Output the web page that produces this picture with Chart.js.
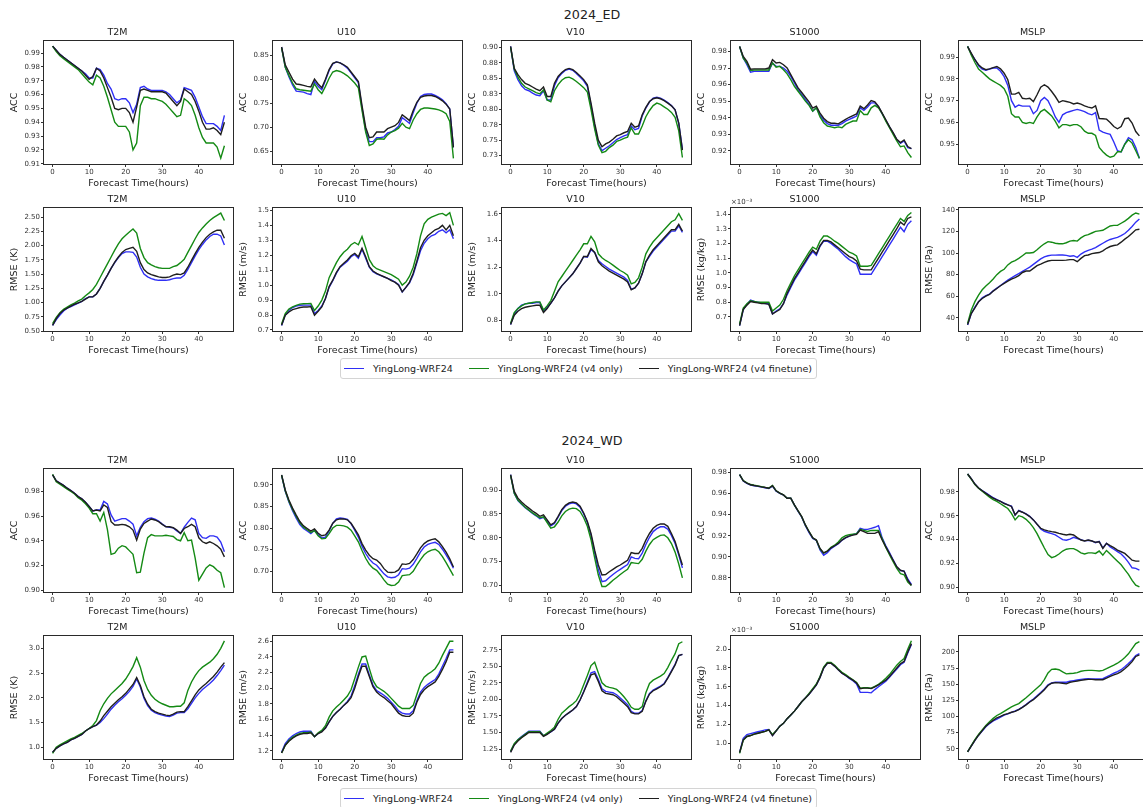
<!DOCTYPE html>
<html>
<head>
<meta charset="utf-8">
<title>YingLong-WRF24 ACC / RMSE</title>
<script src="https://cdn.jsdelivr.net/npm/chart.js@4.4.1/dist/chart.umd.min.js"></script>
<style>
  html, body { margin: 0; padding: 0; background: #fff; }
  body { width: 1143px; height: 807px; position: relative; overflow: hidden; font-family: 'DejaVu Sans', sans-serif; color: #222; }
  canvas.panel { position: absolute; }
  .suptitle { position: absolute; font-size: 12.7px; transform: translate(-50%, -50%); white-space: nowrap; }
  .legend { position: absolute; display: flex; align-items: center; box-sizing: border-box; height: 21px; padding: 0 4px 0 3px;
            border: 1px solid #d4d4d4; border-radius: 3px; background: #fff; font-size: 9.5px; white-space: nowrap; }
  .legend .item { display: flex; align-items: center; margin-right: 16px; }
  .legend .item:last-child { margin-right: 0; }
  .legend .swatch { width: 20px; height: 1.5px; margin-right: 9px; }
</style>
</head>
<body>
<div class="suptitle" style="left:592px; top:14px;">2024_ED</div>
<div class="suptitle" style="left:592px; top:440px;">2024_WD</div>

<script>
// ---- series names / colours ----
const SERIES_NAMES = ['YingLong-WRF24', 'YingLong-WRF24 (v4 only)', 'YingLong-WRF24 (v4 finetune)'];
const SERIES_COLORS = ['#2f2ff5', '#148a14', '#1e1e1e'];

// forecast hours
const HOURS = [0,1,2,3,4,5,6,7,8,9,10,11,12,13,14,15,16,17,18,19,20,21,22,23,24,25,26,27,28,29,30,31,32,33,34,35,36,37,38,39,40,41,42,43,44,45,46,47];
const X_TICKS = [0, 10, 20, 30, 40];

// ================= 2024_ED : ACC =================
const ED_ACC_T2M_BASE = [.995,.992,.989,.987,.985,.983,.981,.979,.977,.975, .972,.972,.979,.978,.974,.968,.964,.957,.956,.957, .957,.954,.947,.953,.965,.966,.964,.963,.963,.963, .963,.962,.960,.957,.954,.956,.965,.964,.963,.958, .951,.944,.939,.939,.939,.937,.934,.945];
const ED_ACC_T2M_V4   = [.995,.991,.988,.986,.984,.982,.980,.978,.975,.972, .969,.967,.974,.972,.966,.958,.949,.940,.937,.937, .937,.933,.920,.925,.952,.958,.958,.957,.957,.956, .955,.953,.950,.947,.944,.945,.957,.955,.952,.945, .936,.929,.925,.925,.925,.922,.914,.923];
const ED_ACC_T2M_FT   = [.995,.992,.989,.987,.985,.983,.981,.979,.977,.974, .971,.973,.979,.977,.972,.965,.958,.950,.949,.950, .950,.947,.940,.951,.963,.964,.963,.962,.962,.962, .962,.961,.958,.955,.952,.955,.964,.962,.960,.955, .948,.940,.935,.935,.936,.934,.931,.940];

const ED_ACC_U10_BASE = [.867,.825,.805,.788,.775,.774,.773,.770,.768,.795, .785,.778,.798,.818,.832,.836,.834,.829,.823,.813, .803,.793,.740,.693,.670,.670,.678,.678,.680,.688, .690,.695,.702,.720,.714,.708,.730,.750,.764,.768, .769,.769,.766,.762,.757,.749,.738,.658];
const ED_ACC_U10_V4   = [.865,.825,.808,.792,.780,.778,.777,.776,.775,.790, .778,.770,.785,.802,.815,.818,.816,.812,.807,.800, .792,.782,.735,.690,.662,.665,.675,.676,.675,.684, .690,.693,.698,.708,.700,.697,.715,.728,.737,.740, .740,.739,.738,.736,.733,.728,.712,.635];
const ED_ACC_U10_FT   = [.867,.830,.815,.800,.790,.789,.787,.785,.784,.800, .790,.782,.800,.820,.833,.836,.834,.830,.825,.815, .805,.795,.745,.700,.678,.680,.690,.690,.690,.697, .700,.703,.710,.726,.720,.714,.735,.752,.762,.765, .766,.766,.764,.760,.755,.748,.738,.658];

const ED_ACC_V10_BASE = [.9016,.862,.848,.838,.832,.830,.826,.823,.822,.830, .815,.815,.838,.851,.858,.863,.865,.863,.858,.852, .846,.837,.806,.772,.744,.733,.737,.741,.746,.751, .754,.757,.759,.773,.767,.769,.789,.802,.812,.818, .8195,.818,.815,.811,.806,.799,.777,.735];
const ED_ACC_V10_V4   = [.900,.865,.852,.842,.836,.833,.830,.827,.825,.831, .815,.812,.830,.840,.847,.851,.852,.849,.845,.840, .835,.828,.800,.768,.742,.730,.732,.738,.742,.748, .750,.753,.755,.770,.760,.760,.773,.788,.798,.806, .810,.808,.804,.800,.795,.787,.765,.722];
const ED_ACC_V10_FT   = [.9016,.866,.856,.848,.842,.8395,.836,.8325,.830,.836, .8206,.8206,.842,.853,.8595,.864,.866,.864,.8595,.854, .848,.8395,.810,.7775,.750,.7395,.744,.747,.7515,.757, .759,.762,.764,.7775,.771,.773,.791,.803,.8125,.817, .8185,.817,.814,.810,.8055,.799,.7775,.734];

const ED_ACC_S1000_BASE = [.983,.976,.972,.9675,.968,.968,.968,.968,.968,.973, .971,.971,.970,.968,.965,.961,.957,.954,.951,.948, .944,.946,.9415,.9385,.9365,.9355,.9355,.9355,.9365,.938, .939,.940,.941,.946,.9445,.9465,.949,.949,.9465,.9425, .9385,.9345,.9308,.9268,.9245,.926,.922,.9214];
const ED_ACC_S1000_V4   = [.983,.976,.973,.9685,.9688,.9688,.9688,.9688,.9688,.973, .9705,.971,.969,.9665,.963,.959,.956,.953,.950,.9475, .944,.946,.9405,.937,.935,.9345,.934,.9345,.934,.936, .937,.938,.938,.9443,.942,.942,.946,.9475,.946,.9425, .938,.934,.930,.926,.9225,.923,.919,.916];
const ED_ACC_S1000_FT   = [.983,.977,.974,.9693,.9695,.9695,.9695,.9695,.970,.975, .973,.9734,.972,.970,.966,.962,.958,.9552,.9524,.9496, .9458,.947,.9428,.9397,.9377,.9367,.9367,.9363,.9377,.939, .9403,.9413,.9423,.947,.9455,.9477,.9504,.9496,.9468,.9428, .9388,.9347,.931,.927,.925,.9266,.9226,.9214];

const ED_ACC_MSLP_BASE = [.995,.9915,.989,.986,.9845,.984,.9845,.985,.985,.9835, .981,.977,.970,.967,.968,.9675,.9675,.9675,.964,.9655, .970,.9715,.970,.9665,.9625,.960,.9635,.9645,.965,.9655, .966,.9655,.965,.964,.9635,.9645,.9565,.9555,.955,.9545, .951,.947,.9465,.950,.953,.952,.9485,.9435];
const ED_ACC_MSLP_V4   = [.995,.991,.9875,.9845,.983,.9815,.980,.979,.978,.977, .9755,.972,.964,.9625,.9625,.960,.9595,.960,.9595,.9625, .965,.966,.9645,.963,.9605,.9575,.959,.959,.9585,.959, .959,.958,.956,.955,.955,.954,.9485,.9465,.945,.944, .9445,.9465,.9465,.950,.952,.9505,.947,.9435];
const ED_ACC_MSLP_FT   = [.9948,.9918,.9888,.9865,.985,.9842,.9846,.9852,.9857,.9846, .9826,.9796,.973,.973,.9738,.9711,.9708,.9711,.9696,.9727, .9762,.9773,.9762,.9742,.9719,.9692,.970,.9696,.9692,.9685, .9689,.9684,.9676,.967,.9666,.9676,.9618,.9617,.9615,.960, .9581,.9571,.9581,.9617,.962,.9597,.9558,.9538];

// ================= 2024_ED : RMSE =================
const ED_RMSE_T2M_BASE = [.60,.70,.78,.85,.90,.93,.96,.99,1.02,1.07, 1.10,1.10,1.15,1.25,1.37,1.48,1.60,1.70,1.79,1.86, 1.89,1.89,1.88,1.80,1.62,1.50,1.45,1.42,1.40,1.39, 1.39,1.39,1.40,1.42,1.43,1.43,1.48,1.58,1.70,1.82, 1.93,2.02,2.10,2.16,2.20,2.20,2.17,2.01];
const ED_RMSE_T2M_V4   = [.63,.74,.82,.88,.92,.96,.99,1.03,1.06,1.12, 1.17,1.23,1.32,1.44,1.56,1.68,1.80,1.92,2.03,2.12, 2.18,2.24,2.29,2.22,1.95,1.79,1.70,1.66,1.63,1.61, 1.60,1.60,1.60,1.63,1.65,1.70,1.76,1.88,2.00,2.12, 2.23,2.31,2.38,2.44,2.49,2.53,2.57,2.44];
const ED_RMSE_T2M_FT   = [.60,.718,.806,.865,.90,.935,.97,.995,1.02,1.06, 1.10,1.10,1.15,1.25,1.37,1.48,1.60,1.71,1.80,1.88, 1.93,1.95,1.97,1.90,1.70,1.58,1.52,1.49,1.47,1.45, 1.44,1.44,1.45,1.48,1.50,1.49,1.52,1.62,1.74,1.86, 1.97,2.06,2.14,2.20,2.24,2.27,2.27,2.13];

const ED_RMSE_U10_BASE = [.73,.80,.83,.85,.86,.865,.866,.866,.866,.81, .83,.86,.91,.985,1.03,1.08,1.12,1.14,1.16,1.19, 1.205,1.18,1.24,1.18,1.12,1.09,1.075,1.065,1.055,1.045, 1.035,1.02,1.005,.955,.985,1.015,1.07,1.15,1.23,1.28, 1.31,1.33,1.34,1.36,1.37,1.35,1.37,1.31];
const ED_RMSE_U10_V4   = [.74,.81,.84,.855,.865,.873,.875,.876,.877,.83, .86,.90,.96,1.05,1.10,1.15,1.19,1.22,1.24,1.27, 1.285,1.27,1.325,1.25,1.17,1.13,1.11,1.10,1.09,1.08, 1.07,1.055,1.04,1.00,1.02,1.06,1.12,1.21,1.33,1.41, 1.44,1.455,1.465,1.475,1.48,1.465,1.485,1.40];
const ED_RMSE_U10_FT   = [.731,.798,.82,.836,.843,.85,.854,.854,.856,.798, .825,.854,.91,.99,1.033,1.085,1.123,1.146,1.168,1.197, 1.213,1.19,1.247,1.19,1.123,1.094,1.078,1.067,1.056,1.045, 1.03,1.02,1.00,.955,.985,1.02,1.08,1.16,1.25,1.30, 1.33,1.35,1.37,1.38,1.40,1.37,1.40,1.33];

const ED_RMSE_V10_BASE = [.77,.85,.89,.915,.925,.93,.93,.935,.935,.87, .90,.93,.97,1.02,1.06,1.09,1.12,1.15,1.19,1.23, 1.28,1.275,1.33,1.31,1.25,1.225,1.205,1.185,1.17,1.155, 1.14,1.125,1.10,1.035,1.045,1.08,1.15,1.24,1.28,1.32, 1.35,1.38,1.41,1.44,1.47,1.47,1.51,1.46];
const ED_RMSE_V10_V4   = [.78,.86,.89,.91,.925,.93,.935,.94,.94,.88, .91,.95,1.02,1.09,1.13,1.17,1.21,1.25,1.29,1.33, 1.375,1.375,1.43,1.39,1.30,1.27,1.25,1.235,1.215,1.195, 1.175,1.16,1.14,1.075,1.085,1.12,1.20,1.30,1.35,1.39, 1.42,1.45,1.48,1.51,1.54,1.555,1.60,1.55];
const ED_RMSE_V10_FT   = [.77,.84,.87,.89,.90,.905,.91,.915,.915,.86, .89,.93,.97,1.02,1.06,1.09,1.12,1.15,1.19,1.23, 1.28,1.28,1.34,1.31,1.24,1.21,1.19,1.17,1.155,1.14, 1.125,1.11,1.09,1.03,1.045,1.08,1.15,1.24,1.29,1.33, 1.36,1.39,1.42,1.45,1.48,1.48,1.52,1.47];

// S1000 RMSE in units of 1e-3 kg/kg
const ED_RMSE_S1000_BASE = [.64,.75,.785,.815,.805,.80,.795,.79,.79,.72, .74,.755,.79,.85,.90,.95,.99,1.03,1.07,1.11, 1.145,1.12,1.18,1.215,1.215,1.20,1.18,1.16,1.135,1.11, 1.09,1.075,1.06,.99,.99,.99,.99,1.03,1.07,1.11, 1.15,1.19,1.23,1.27,1.31,1.28,1.33,1.355];
const ED_RMSE_S1000_V4   = [.65,.76,.79,.81,.805,.80,.80,.80,.80,.74, .76,.78,.82,.88,.93,.98,1.02,1.06,1.10,1.14, 1.175,1.16,1.215,1.25,1.25,1.235,1.215,1.20,1.18,1.16, 1.14,1.13,1.115,1.045,1.045,1.045,1.05,1.09,1.13,1.17, 1.21,1.25,1.29,1.33,1.37,1.35,1.39,1.41];
const ED_RMSE_S1000_FT   = [.64,.75,.78,.805,.80,.795,.79,.79,.785,.72, .735,.75,.79,.86,.91,.96,1.00,1.04,1.08,1.12, 1.155,1.13,1.185,1.22,1.22,1.21,1.19,1.17,1.15,1.13, 1.11,1.10,1.08,1.025,1.02,1.02,1.02,1.06,1.10,1.14, 1.18,1.22,1.26,1.30,1.345,1.325,1.37,1.38];

const ED_RMSE_MSLP_BASE = [33.5,44,50,55,58.5,60.5,62,65,67.5,70, 72.5,75,77,79,81,83,85,87,89.5,92, 94.5,96.5,97.5,98,98,98.2,98.2,97.8,97,97.5, 96,99,101,102.5,103.5,105,107,109,111,112.5, 113.5,114.5,116,118,121,124.5,128.5,131.5];
const ED_RMSE_MSLP_V4   = [35,47,55,61,66,69.5,72.5,76,80,83, 85,89,91.5,93,95,97.5,100,100,100.5,103, 106,108.5,110.5,110,109,108.5,108.5,109.5,111,111.5, 111,114,116,117,118.5,120,120.5,121,123,125, 125.5,125.5,127.5,129.5,132,135,137,136];
const ED_RMSE_MSLP_FT   = [33.8,44,49.3,54.9,58,60.1,61.7,64.8,67.2,69.7, 71.9,74,75.9,77.2,79,82,83.3,83.3,85.8,88.3, 89.8,91.4,92.6,93.2,93.2,93.2,93.2,93.4,93.9,93.9, 92,95,97.6,98.2,99.4,100,100.4,102,104.4,106, 106.9,107.5,110,112.8,115.2,118.3,121.4,122];

// ================= 2024_WD : ACC =================
const WD_ACC_T2M_BASE = [.9936,.9887,.9868,.985,.9827,.9808,.9786,.9759,.974,.9713, .9678,.9642,.965,.965,.972,.970,.961,.956,.957,.958, .958,.956,.9535,.944,.951,.9555,.958,.9585,.9575,.956, .9535,.9515,.951,.9505,.948,.946,.951,.955,.9585,.957, .946,.9425,.942,.944,.944,.943,.939,.931];
const WD_ACC_T2M_V4   = [.994,.988,.986,.984,.982,.980,.978,.975,.973,.970, .9665,.962,.962,.956,.963,.949,.929,.930,.934,.936, .935,.932,.929,.914,.9145,.930,.9425,.945,.944,.944, .944,.9445,.944,.9435,.941,.940,.9465,.940,.9405,.926, .908,.913,.918,.9205,.919,.916,.914,.902];
const WD_ACC_T2M_FT   = [.9936,.9887,.9868,.985,.9827,.9808,.9786,.9759,.974,.9713, .9678,.9642,.965,.9642,.9691,.967,.9555,.9528,.9528,.9533, .9528,.9514,.9487,.9405,.9495,.9541,.956,.9577,.9569,.9555, .9533,.9514,.9514,.9506,.9487,.946,.950,.9514,.9533,.9514, .9424,.9392,.9378,.9392,.9378,.9359,.9332,.9269];

const WD_ACC_U10_BASE = [.922,.885,.860,.840,.823,.808,.799,.793,.787,.795, .785,.777,.779,.793,.811,.821,.823,.822,.820,.810, .795,.779,.758,.741,.728,.719,.714,.704,.694,.687, .685,.686,.692,.706,.705,.707,.716,.730,.745,.756, .762,.765,.767,.762,.751,.738,.724,.707];
const WD_ACC_U10_V4   = [.922,.886,.862,.843,.827,.812,.802,.796,.790,.794, .782,.775,.776,.787,.800,.806,.806,.805,.802,.795, .782,.768,.748,.730,.716,.707,.702,.692,.680,.670, .667,.668,.675,.690,.691,.692,.700,.714,.727,.738, .745,.749,.751,.745,.734,.720,.705,.690];
const WD_ACC_U10_FT   = [.923,.888,.865,.846,.830,.815,.805,.799,.793,.798, .788,.782,.784,.795,.811,.819,.821,.821,.819,.811, .798,.784,.764,.749,.737,.729,.726,.718,.706,.698, .697,.698,.703,.717,.716,.718,.727,.740,.754,.764, .770,.773,.775,.768,.757,.744,.729,.710];

const WD_ACC_V10_BASE = [.932,.893,.878,.870,.863,.857,.851,.846,.840,.843, .834,.825,.830,.843,.857,.866,.871,.873,.871,.864, .850,.832,.805,.768,.733,.708,.710,.717,.723,.729, .734,.739,.744,.760,.757,.756,.768,.786,.801,.813, .819,.823,.823,.818,.805,.788,.764,.737];
const WD_ACC_V10_V4   = [.930,.893,.879,.871,.864,.858,.852,.847,.842,.844, .832,.820,.823,.833,.846,.855,.860,.862,.861,.855, .842,.824,.796,.758,.722,.698,.698,.704,.711,.717, .723,.729,.734,.748,.747,.746,.755,.772,.786,.796, .801,.805,.806,.800,.788,.770,.745,.716];
const WD_ACC_V10_FT   = [.932,.897,.883,.875,.868,.862,.856,.851,.845,.848, .8375,.827,.832,.845,.859,.868,.873,.875,.873,.866, .852,.834,.809,.774,.743,.722,.723,.729,.734,.739, .743,.748,.753,.769,.767,.767,.778,.795,.809,.820, .826,.829,.829,.824,.809,.792,.767,.743];

const WD_ACC_S1000_BASE = [.9778,.9718,.9695,.968,.9673,.9667,.966,.9654,.9647,.967, .9622,.960,.9585,.9555,.9555,.949,.943,.9375,.9295,.923, .9175,.9155,.9065,.9015,.904,.9078,.910,.9125,.9158,.918, .9197,.921,.922,.927,.926,.926,.927,.928,.9295,.918, .9105,.904,.8972,.8905,.887,.8865,.879,.874];
const WD_ACC_S1000_V4   = [.9778,.9722,.970,.9685,.9678,.9672,.9665,.9658,.9652,.9675, .9625,.9603,.9587,.9555,.9556,.949,.9435,.938,.930,.924, .918,.9158,.9075,.9035,.9055,.909,.911,.914,.918,.920, .921,.9215,.922,.926,.925,.924,.925,.925,.925,.917, .909,.902,.8955,.889,.884,.883,.876,.873];
const WD_ACC_S1000_FT   = [.9778,.972,.9698,.9683,.9676,.967,.9663,.9657,.965,.9673, .9625,.9603,.9587,.9555,.9556,.9492,.9435,.9381,.9302,.9238, .9181,.9159,.9079,.9038,.9054,.9086,.9105,.9127,.9159,.9181, .9197,.9206,.9213,.9254,.9238,.9222,.9222,.9222,.9238,.9159, .9095,.9032,.8968,.8905,.8873,.8863,.8778,.873];

const WD_ACC_MSLP_BASE = [.9948,.9909,.9864,.9831,.981,.979,.977,.975,.9735,.972, .9705,.969,.968,.9605,.9645,.963,.9615,.9595,.9565,.953, .949,.947,.946,.945,.944,.942,.940,.9395,.9405,.942, .941,.940,.939,.9395,.939,.9375,.9385,.933,.937,.934, .932,.930,.928,.925,.921,.9165,.916,.9145];
const WD_ACC_MSLP_V4   = [.9948,.9905,.986,.983,.9805,.978,.9755,.9735,.972,.970, .968,.966,.962,.9565,.960,.959,.957,.954,.950,.945, .939,.933,.9275,.925,.926,.928,.9305,.932,.9325,.9325, .931,.929,.928,.929,.929,.9285,.9305,.927,.931,.928, .925,.922,.919,.915,.911,.906,.902,.9005];
const WD_ACC_MSLP_FT   = [.9948,.9909,.9864,.9831,.9808,.9786,.9766,.9747,.9733,.9719, .9702,.9691,.9677,.9607,.9641,.9629,.9613,.9593,.9565,.9529, .9495,.9481,.9473,.9467,.9462,.9453,.9445,.9439,.9445,.9439, .9417,.9397,.9389,.9397,.9389,.9378,.9383,.9327,.9369,.935, .9333,.9313,.9299,.9285,.9257,.9229,.9221,.9221];

// ================= 2024_WD : RMSE =================
const WD_RMSE_T2M_BASE = [.90,.98,1.03,1.07,1.10,1.15,1.18,1.22,1.26,1.33, 1.38,1.42,1.45,1.50,1.58,1.67,1.77,1.85,1.92,1.98, 2.05,2.13,2.23,2.38,2.22,1.99,1.84,1.75,1.70,1.67, 1.65,1.63,1.62,1.65,1.69,1.70,1.70,1.78,1.89,2.00, 2.09,2.17,2.23,2.29,2.36,2.45,2.55,2.66];
const WD_RMSE_T2M_V4   = [.88,1.00,1.05,1.09,1.13,1.17,1.20,1.24,1.28,1.33, 1.38,1.44,1.54,1.74,1.88,1.99,2.08,2.15,2.22,2.29, 2.38,2.50,2.63,2.81,2.62,2.35,2.17,2.05,1.97,1.92, 1.88,1.85,1.82,1.82,1.83,1.83,1.90,2.15,2.32,2.45, 2.55,2.62,2.67,2.72,2.79,2.88,3.00,3.15];
const WD_RMSE_T2M_FT   = [.90,.98,1.03,1.07,1.10,1.15,1.18,1.22,1.26,1.33, 1.38,1.42,1.45,1.53,1.64,1.73,1.82,1.89,1.96,2.02, 2.09,2.18,2.27,2.41,2.25,2.02,1.87,1.77,1.72,1.69, 1.67,1.65,1.64,1.67,1.71,1.72,1.72,1.82,1.94,2.06, 2.16,2.23,2.29,2.36,2.43,2.52,2.62,2.71];

const WD_RMSE_U10_BASE = [1.18,1.29,1.35,1.39,1.42,1.44,1.45,1.45,1.45,1.38, 1.42,1.45,1.49,1.57,1.64,1.69,1.73,1.78,1.83,1.90, 2.03,2.18,2.31,2.31,2.17,2.04,1.97,1.94,1.91,1.87, 1.82,1.77,1.71,1.68,1.67,1.67,1.71,1.84,1.95,2.01, 2.05,2.08,2.11,2.18,2.28,2.38,2.49,2.49];
const WD_RMSE_U10_V4   = [1.17,1.27,1.33,1.37,1.40,1.42,1.43,1.43,1.44,1.38, 1.43,1.46,1.52,1.63,1.71,1.76,1.80,1.85,1.90,1.98, 2.12,2.27,2.40,2.41,2.25,2.10,2.02,1.99,1.96,1.92, 1.87,1.82,1.77,1.74,1.74,1.74,1.78,1.92,2.06,2.14, 2.18,2.21,2.25,2.32,2.42,2.51,2.60,2.60];
const WD_RMSE_U10_FT   = [1.17,1.27,1.32,1.36,1.39,1.41,1.42,1.42,1.43,1.38, 1.42,1.44,1.49,1.57,1.64,1.69,1.73,1.78,1.82,1.88, 2.00,2.15,2.28,2.28,2.15,2.02,1.95,1.91,1.88,1.84, 1.80,1.74,1.68,1.65,1.64,1.64,1.68,1.82,1.92,1.98, 2.02,2.05,2.08,2.15,2.24,2.34,2.46,2.46];

const WD_RMSE_V10_BASE = [1.21,1.32,1.39,1.44,1.48,1.52,1.52,1.52,1.52,1.45, 1.48,1.51,1.55,1.64,1.71,1.76,1.80,1.84,1.89,1.99, 2.12,2.26,2.40,2.42,2.30,2.16,2.12,2.11,2.10,2.07, 2.02,1.97,1.92,1.82,1.79,1.79,1.83,1.98,2.09,2.14, 2.17,2.20,2.24,2.33,2.43,2.53,2.66,2.68];
const WD_RMSE_V10_V4   = [1.22,1.33,1.39,1.43,1.47,1.51,1.51,1.51,1.51,1.45, 1.49,1.53,1.58,1.70,1.79,1.84,1.89,1.93,1.98,2.08, 2.22,2.36,2.51,2.56,2.40,2.25,2.20,2.18,2.17,2.15, 2.10,2.04,1.97,1.88,1.85,1.85,1.89,2.10,2.24,2.29, 2.32,2.35,2.39,2.48,2.59,2.69,2.84,2.87];
const WD_RMSE_V10_FT   = [1.20,1.31,1.37,1.42,1.46,1.50,1.50,1.50,1.50,1.44, 1.47,1.51,1.55,1.64,1.71,1.76,1.80,1.84,1.89,1.99, 2.11,2.24,2.37,2.39,2.27,2.13,2.09,2.08,2.07,2.04, 1.99,1.94,1.89,1.80,1.78,1.78,1.82,1.97,2.08,2.13, 2.16,2.19,2.23,2.32,2.42,2.52,2.66,2.68];

// S1000 RMSE in units of 1e-3 kg/kg
const WD_RMSE_S1000_BASE = [.90,1.05,1.09,1.10,1.11,1.12,1.13,1.14,1.145,1.08, 1.13,1.18,1.21,1.26,1.30,1.34,1.39,1.44,1.48,1.52, 1.57,1.62,1.70,1.80,1.85,1.85,1.82,1.78,1.745,1.72, 1.69,1.665,1.63,1.54,1.54,1.54,1.535,1.57,1.60,1.63, 1.66,1.70,1.745,1.79,1.835,1.86,1.96,2.05];
const WD_RMSE_S1000_V4   = [.89,1.03,1.07,1.08,1.095,1.105,1.115,1.125,1.14,1.09, 1.13,1.18,1.21,1.26,1.30,1.34,1.39,1.44,1.48,1.53, 1.58,1.63,1.71,1.81,1.86,1.86,1.83,1.79,1.755,1.73, 1.70,1.675,1.645,1.585,1.59,1.59,1.585,1.605,1.625,1.655, 1.69,1.73,1.78,1.83,1.87,1.90,2.00,2.09];
const WD_RMSE_S1000_FT   = [.90,1.035,1.07,1.08,1.095,1.105,1.115,1.125,1.14,1.08, 1.13,1.18,1.21,1.26,1.30,1.34,1.39,1.44,1.48,1.52, 1.57,1.62,1.70,1.80,1.85,1.85,1.82,1.78,1.745,1.72, 1.695,1.67,1.64,1.58,1.585,1.585,1.58,1.60,1.62,1.645, 1.67,1.71,1.755,1.80,1.845,1.87,1.97,2.06];

const WD_RMSE_MSLP_BASE = [45,54,63,71,77.5,84,89,93,96,99, 102,104,106.5,108.5,111,114.5,118.5,123,127,132, 137,142.5,149,152,153,153,153,153,154.5,155.5, 156.5,157.5,158,158.5,158,158,158,158.5,161.5,164, 167,169.5,172.5,177,182,187.5,194.5,197.5];
const WD_RMSE_MSLP_V4   = [45,55,64,72,79,86,92,97,101.5,104.5, 108,111.5,115,117.5,120,124.5,129,134,139,144, 149,157,167.5,173,173.5,172.5,169,166,166.5,167, 168,170,171,171.5,171.5,171,170.5,171.5,174,177, 179.5,182.5,186.5,191.5,197,205,213,216];
const WD_RMSE_MSLP_FT   = [45,54,63,71,78,85,90,94,98,100, 103,104.5,106.5,108,110.5,114,118,122.5,126,131, 136,141.5,148,151.5,152.5,152,151.5,150.5,153,154, 155,156,157,157.5,157.5,157,157,157,159.5,162, 164.5,166.5,169.5,174,179,185,193,195.5];

// ---- y tick values (labels are formatted, V10 ED ACC has its own labels) ----
const TICKS_ED_ACC_T2M   = [.91,.92,.93,.94,.95,.96,.97,.98,.99];
const TICKS_ED_ACC_U10   = [.65,.70,.75,.80,.85];
const TICKS_ED_ACC_V10   = [.725,.75,.775,.80,.825,.85,.875,.90];
const LABELS_ED_ACC_V10  = ['0.73','0.75','0.78','0.80','0.83','0.85','0.88','0.90'];
const TICKS_ED_ACC_S1000 = [.92,.93,.94,.95,.96,.97,.98];
const TICKS_ED_ACC_MSLP  = [.95,.96,.97,.98,.99];
const TICKS_ED_RMSE_T2M   = [.50,.75,1.00,1.25,1.50,1.75,2.00,2.25,2.50];
const TICKS_ED_RMSE_U10   = [.7,.8,.9,1.0,1.1,1.2,1.3,1.4,1.5];
const TICKS_ED_RMSE_V10   = [.8,1.0,1.2,1.4,1.6];
const TICKS_ED_RMSE_S1000 = [.7,.8,.9,1.0,1.1,1.2,1.3,1.4];
const TICKS_ED_RMSE_MSLP  = [40,60,80,100,120,140];
const TICKS_WD_ACC_T2M   = [.90,.92,.94,.96,.98];
const TICKS_WD_ACC_U10   = [.70,.75,.80,.85,.90];
const TICKS_WD_ACC_V10   = [.70,.75,.80,.85,.90];
const TICKS_WD_ACC_S1000 = [.88,.90,.92,.94,.96,.98];
const TICKS_WD_ACC_MSLP  = [.90,.92,.94,.96,.98];
const TICKS_WD_RMSE_T2M   = [1.0,1.5,2.0,2.5,3.0];
const TICKS_WD_RMSE_U10   = [1.2,1.4,1.6,1.8,2.0,2.2,2.4,2.6];
const TICKS_WD_RMSE_V10   = [1.25,1.50,1.75,2.00,2.25,2.50,2.75];
const TICKS_WD_RMSE_S1000 = [1.0,1.2,1.4,1.6,1.8,2.0];
const TICKS_WD_RMSE_MSLP  = [50,75,100,125,150,175,200];

// ---- layout (plot area boxes, px) ----
const ROW_TOPS = [41, 208, 469, 636];
const COL_LEFTS = [44, 273, 502, 731, 959];
const PLOT_W = 189, PLOT_H = 123;
const Y_AXIS_W = 42, X_AXIS_H = 28, TITLE_H = 16, PAD_R = 4;
const FONT = 'DejaVu Sans';

// panel list: [row, col, title, yLabel, base, v4, ft, yMin, yMax, ticks, decimals or labels, offsetText]
const PANELS = [
  [0,0,'T2M','ACC',ED_ACC_T2M_BASE,ED_ACC_T2M_V4,ED_ACC_T2M_FT,.9098,.9987,TICKS_ED_ACC_T2M,2],
  [0,1,'U10','ACC',ED_ACC_U10_BASE,ED_ACC_U10_V4,ED_ACC_U10_FT,.6234,.8795,TICKS_ED_ACC_U10,2],
  [0,2,'V10','ACC',ED_ACC_V10_BASE,ED_ACC_V10_V4,ED_ACC_V10_FT,.7115,.9104,TICKS_ED_ACC_V10,LABELS_ED_ACC_V10],
  [0,3,'S1000','ACC',ED_ACC_S1000_BASE,ED_ACC_S1000_V4,ED_ACC_S1000_FT,.9121,.9863,TICKS_ED_ACC_S1000,2],
  [0,4,'MSLP','ACC',ED_ACC_MSLP_BASE,ED_ACC_MSLP_V4,ED_ACC_MSLP_FT,.9409,.9974,TICKS_ED_ACC_MSLP,2],
  [1,0,'T2M','RMSE (K)',ED_RMSE_T2M_BASE,ED_RMSE_T2M_V4,ED_RMSE_T2M_FT,.50,2.66,TICKS_ED_RMSE_T2M,2],
  [1,1,'U10','RMSE (m/s)',ED_RMSE_U10_BASE,ED_RMSE_U10_V4,ED_RMSE_U10_FT,.693,1.516,TICKS_ED_RMSE_U10,1],
  [1,2,'V10','RMSE (m/s)',ED_RMSE_V10_BASE,ED_RMSE_V10_V4,ED_RMSE_V10_FT,.722,1.643,TICKS_ED_RMSE_V10,1],
  [1,3,'S1000','RMSE (kg/kg)',ED_RMSE_S1000_BASE,ED_RMSE_S1000_V4,ED_RMSE_S1000_FT,.604,1.441,TICKS_ED_RMSE_S1000,1,'×10⁻³'],
  [1,4,'MSLP','RMSE (Pa)',ED_RMSE_MSLP_BASE,ED_RMSE_MSLP_V4,ED_RMSE_MSLP_FT,27.9,141.6,TICKS_ED_RMSE_MSLP,0],
  [2,0,'T2M','ACC',WD_ACC_T2M_BASE,WD_ACC_T2M_V4,WD_ACC_T2M_FT,.8984,.9983,TICKS_WD_ACC_T2M,2],
  [2,1,'U10','ACC',WD_ACC_U10_BASE,WD_ACC_U10_V4,WD_ACC_U10_FT,.652,.9365,TICKS_WD_ACC_U10,2],
  [2,2,'V10','ACC',WD_ACC_V10_BASE,WD_ACC_V10_V4,WD_ACC_V10_FT,.6865,.944,TICKS_WD_ACC_V10,2],
  [2,3,'S1000','ACC',WD_ACC_S1000_BASE,WD_ACC_S1000_V4,WD_ACC_S1000_FT,.8667,.9832,TICKS_WD_ACC_S1000,2],
  [2,4,'MSLP','ACC',WD_ACC_MSLP_BASE,WD_ACC_MSLP_V4,WD_ACC_MSLP_FT,.8963,.999,TICKS_WD_ACC_MSLP,2],
  [3,0,'T2M','RMSE (K)',WD_RMSE_T2M_BASE,WD_RMSE_T2M_V4,WD_RMSE_T2M_FT,.764,3.249,TICKS_WD_RMSE_T2M,1],
  [3,1,'U10','RMSE (m/s)',WD_RMSE_U10_BASE,WD_RMSE_U10_V4,WD_RMSE_U10_FT,1.094,2.668,TICKS_WD_RMSE_U10,1],
  [3,2,'V10','RMSE (m/s)',WD_RMSE_V10_BASE,WD_RMSE_V10_V4,WD_RMSE_V10_FT,1.099,2.957,TICKS_WD_RMSE_V10,2],
  [3,3,'S1000','RMSE (kg/kg)',WD_RMSE_S1000_BASE,WD_RMSE_S1000_V4,WD_RMSE_S1000_FT,.83,2.141,TICKS_WD_RMSE_S1000,1,'×10⁻³'],
  [3,4,'MSLP','RMSE (Pa)',WD_RMSE_MSLP_BASE,WD_RMSE_MSLP_V4,WD_RMSE_MSLP_FT,34.1,224.7,TICKS_WD_RMSE_MSLP,0]
];

// matplotlib-like full box around the axes + optional offset text (e.g. x10^-3)
const framePlugin = {
  id: 'frame',
  afterDraw(chart, args, opts) {
    const {ctx, chartArea: a} = chart;
    ctx.save();
    ctx.strokeStyle = '#2a2a2a';
    ctx.lineWidth = 1;
    ctx.strokeRect(Math.round(a.left) - 0.5, Math.round(a.top) - 0.5,
                   Math.round(a.right - a.left) + 1, Math.round(a.bottom - a.top) + 1);
    if (opts.offsetText) {
      ctx.fillStyle = '#333';
      ctx.font = '7px "' + FONT + '"';
      ctx.textAlign = 'left';
      ctx.textBaseline = 'bottom';
      ctx.fillText(opts.offsetText, a.left, a.top - 2);
    }
    ctx.restore();
  }
};

function toPoints(vals) {
  return vals.map((v, i) => ({x: HOURS[i], y: v}));
}

function makePanel(p) {
  const [row, col, title, yLabel, base, v4, ft, yMin, yMax, ticks, fmt, offsetText] = p;
  const canvas = document.createElement('canvas');
  canvas.className = 'panel';
  canvas.width = Y_AXIS_W + PLOT_W + PAD_R;
  canvas.height = TITLE_H + PLOT_H + X_AXIS_H;
  canvas.style.left = (COL_LEFTS[col] - Y_AXIS_W) + 'px';
  canvas.style.top = (ROW_TOPS[row] - TITLE_H) + 'px';
  document.body.appendChild(canvas);

  const tickGrid = {display: true, drawOnChartArea: false, drawTicks: true, tickLength: 3, color: '#333', tickColor: '#333'};
  const yLabelOf = (v, i) => Array.isArray(fmt) ? fmt[i] : Number(v).toFixed(fmt);

  // finetune drawn last (on top), like the reference
  const series = [[ft, 2], [v4, 1], [base, 0]];

  new Chart(canvas.getContext('2d'), {
    type: 'line',
    data: {
      datasets: series.map(([vals, k]) => ({
        label: SERIES_NAMES[k],
        data: toPoints(vals),
        borderColor: SERIES_COLORS[k],
        borderWidth: 1.4,
        pointRadius: 0,
        tension: 0,
        fill: false
      }))
    },
    options: {
      responsive: false,
      animation: false,
      layout: {padding: {left: 0, right: PAD_R, top: 0, bottom: 0}},
      plugins: {
        legend: {display: false},
        tooltip: {enabled: false},
        title: {display: true, text: title, color: '#222', font: {size: 9.5, weight: 'normal', family: FONT}, padding: {top: 2, bottom: 2.6}},
        frame: {offsetText: offsetText || ''}
      },
      scales: {
        x: {
          type: 'linear', min: -2.35, max: 49.35,
          afterBuildTicks: s => { s.ticks = X_TICKS.map(v => ({value: v})); },
          afterFit: s => { s.height = X_AXIS_H; },
          grid: tickGrid,
          border: {display: false},
          ticks: {autoSkip: false, maxRotation: 0, padding: 1, color: '#333', font: {size: 7, family: FONT}, callback: v => String(v)},
          title: {display: true, text: 'Forecast Time(hours)', color: '#222', font: {size: 9.5, family: FONT}, padding: {top: 0, bottom: 3}}
        },
        y: {
          type: 'linear', min: yMin, max: yMax,
          afterBuildTicks: s => { s.ticks = ticks.map(v => ({value: v})); },
          afterFit: s => { s.width = Y_AXIS_W; },
          grid: tickGrid,
          border: {display: false},
          ticks: {autoSkip: false, padding: 1, color: '#333', font: {size: 7, family: FONT}, callback: yLabelOf},
          title: {display: true, text: yLabel, color: '#222', font: {size: 9.5, family: FONT}, padding: {top: 7, bottom: 0}}
        }
      }
    },
    plugins: [framePlugin]
  });
}

function makeLegend(top) {
  const box = document.createElement('div');
  box.className = 'legend';
  box.style.left = '340px';
  box.style.top = top + 'px';
  SERIES_NAMES.forEach((name, k) => {
    const item = document.createElement('div');
    item.className = 'item';
    const sw = document.createElement('span');
    sw.className = 'swatch';
    sw.style.background = SERIES_COLORS[k];
    const txt = document.createElement('span');
    txt.textContent = name;
    item.appendChild(sw);
    item.appendChild(txt);
    box.appendChild(item);
  });
  document.body.appendChild(box);
}

Chart.defaults.font.family = FONT;
PANELS.forEach(makePanel);
makeLegend(358);
makeLegend(788);
</script>
</body>
</html>
